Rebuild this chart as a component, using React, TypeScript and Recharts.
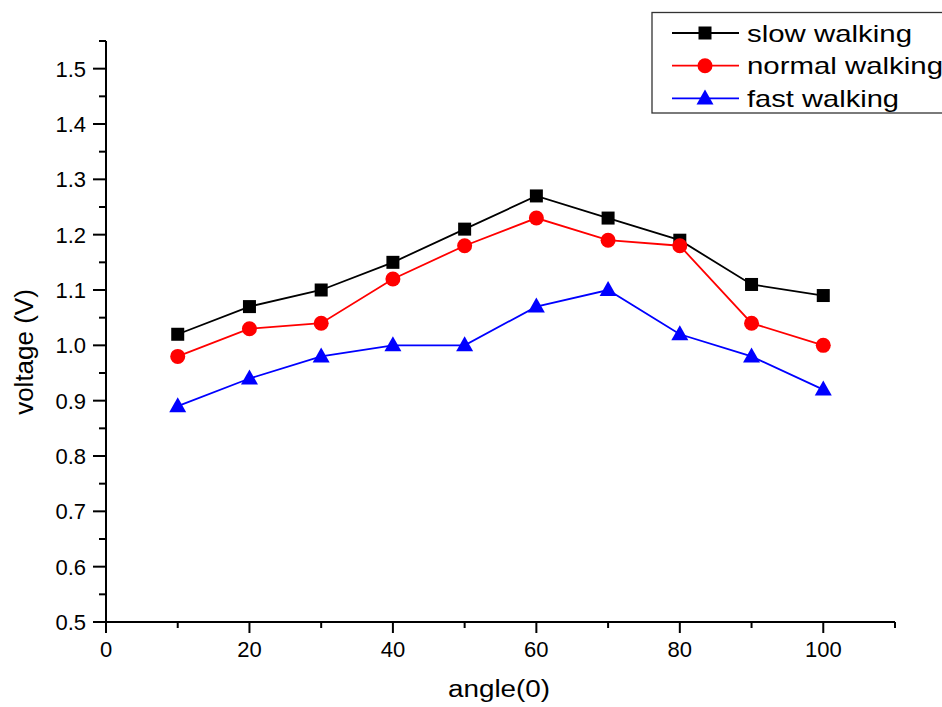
import React from 'react';
import { LineChart, Line, XAxis, YAxis, Customized } from 'recharts';

const angles = [10, 20, 30, 40, 50, 60, 70, 80, 90, 100];
const slowWalking = [1.02, 1.07, 1.1, 1.15, 1.21, 1.27, 1.23, 1.19, 1.11, 1.09];
const normalWalking = [0.98, 1.03, 1.04, 1.12, 1.18, 1.23, 1.19, 1.18, 1.04, 1.0];
const fastWalking = [0.89, 0.94, 0.98, 1.0, 1.0, 1.07, 1.1, 1.02, 0.98, 0.92];

const xTicks = [0, 10, 20, 30, 40, 50, 60, 70, 80, 90, 100, 110];
const yTicks = [0.5, 0.55, 0.6, 0.65, 0.7, 0.75, 0.8, 0.85, 0.9, 0.95, 1.0, 1.05, 1.1, 1.15, 1.2, 1.25, 1.3, 1.35, 1.4, 1.45, 1.5, 1.55];

const seriesNames = ['slow walking', 'normal walking', 'fast walking'];
const seriesColors = ['#000000', '#ff0000', '#0000ff'];
const legendWidths = [165, 196, 152];

const data = angles.map((a, i) => ({
  angle: a,
  slow: slowWalking[i],
  normal: normalWalking[i],
  fast: fastWalking[i],
}));

const FONT = '"Liberation Sans", Arial, Helvetica, sans-serif';

const Marker = ({ kind, cx, cy, color }: { kind: number; cx: number; cy: number; color: string }) => {
  if (kind === 0) return <rect x={cx - 6.5} y={cy - 6.5} width={13} height={13} fill={color} />;
  if (kind === 1) return <circle cx={cx} cy={cy} r={7.5} fill={color} />;
  return <polygon points={`${cx},${cy - 9} ${cx - 8.5},${cy + 6} ${cx + 8.5},${cy + 6}`} fill={color} />;
};

const makeDot = (kind: number, color: string) => (props: any) => {
  const { cx, cy, index } = props;
  if (cx == null || cy == null) return <g key={`d-${kind}-${index}`} />;
  return (
    <g key={`d-${kind}-${index}`}>
      <Marker kind={kind} cx={cx} cy={cy} color={color} />
    </g>
  );
};

const XTick = (props: any) => {
  const { x, y, payload } = props;
  const v = payload.value;
  const major = v % 20 === 0 && v <= 100;
  return (
    <g>
      <line x1={x} x2={x} y1={y} y2={y + (major ? 11 : 6)} stroke="#000" strokeWidth={2} />
      {major && (
        <text x={x} y={y + 35} textAnchor="middle" fontSize={22} fontFamily={FONT} fill="#000">
          {v}
        </text>
      )}
    </g>
  );
};

const YTick = (props: any) => {
  const { x, y, payload } = props;
  const v = payload.value;
  const major = Math.round(v * 100) % 10 === 0;
  return (
    <g>
      <line x1={x - (major ? 13 : 7)} x2={x} y1={y} y2={y} stroke="#000" strokeWidth={2} />
      {major && (
        <text x={x - 20} y={y + 8} textAnchor="end" fontSize={22} fontFamily={FONT} fill="#000">
          {v.toFixed(1)}
        </text>
      )}
    </g>
  );
};

const Decorations = () => (
  <g>
    <text x={499} y={697} textAnchor="middle" fontSize={23} fontFamily={FONT} fill="#000" textLength={102} lengthAdjust="spacingAndGlyphs">
      angle(0)
    </text>
    <text
      transform="translate(33,352) rotate(-90)"
      textAnchor="middle"
      fontSize={26}
      fontFamily={FONT}
      fill="#000"
    >
      voltage (V)
    </text>
    <rect x={652} y={12.5} width={300} height={100.5} fill="#fff" stroke="#333" strokeWidth={1.3} />
    {seriesNames.map((name, i) => {
      const cy = 33 + i * 32.7;
      return (
        <g key={name}>
          <line x1={672} x2={739} y1={cy} y2={cy} stroke={seriesColors[i]} strokeWidth={1.8} />
          <Marker kind={i} cx={705} cy={cy} color={seriesColors[i]} />
          <text x={747} y={cy + 8.5} fontSize={24} fontFamily={FONT} fill="#000" textLength={legendWidths[i]} lengthAdjust="spacingAndGlyphs">
            {name}
          </text>
        </g>
      );
    })}
  </g>
);

export default function App() {
  return (
    <div style={{ position: 'absolute', left: 0, top: 0, width: 942, height: 707, background: '#fff' }}>
      <LineChart width={942} height={707} data={data} margin={{ top: 41, right: 47, left: 0, bottom: 0 }}>
        <XAxis
          dataKey="angle"
          type="number"
          domain={[0, 110]}
          ticks={xTicks}
          interval={0}
          tickSize={0}
          tickMargin={0}
          height={85}
          tick={<XTick />}
          axisLine={{ stroke: '#000', strokeWidth: 2 }}
          tickLine={false}
        />
        <YAxis
          type="number"
          domain={[0.5, 1.55]}
          ticks={yTicks}
          interval={0}
          tickSize={0}
          tickMargin={0}
          width={106}
          tick={<YTick />}
          axisLine={{ stroke: '#000', strokeWidth: 2 }}
          tickLine={false}
          allowDataOverflow
        />
        <Line type="linear" dataKey="slow" stroke={seriesColors[0]} strokeWidth={1.8} dot={makeDot(0, seriesColors[0])} activeDot={false} isAnimationActive={false} />
        <Line type="linear" dataKey="normal" stroke={seriesColors[1]} strokeWidth={1.8} dot={makeDot(1, seriesColors[1])} activeDot={false} isAnimationActive={false} />
        <Line type="linear" dataKey="fast" stroke={seriesColors[2]} strokeWidth={1.8} dot={makeDot(2, seriesColors[2])} activeDot={false} isAnimationActive={false} />
        <Customized component={<Decorations />} />
      </LineChart>
    </div>
  );
}
